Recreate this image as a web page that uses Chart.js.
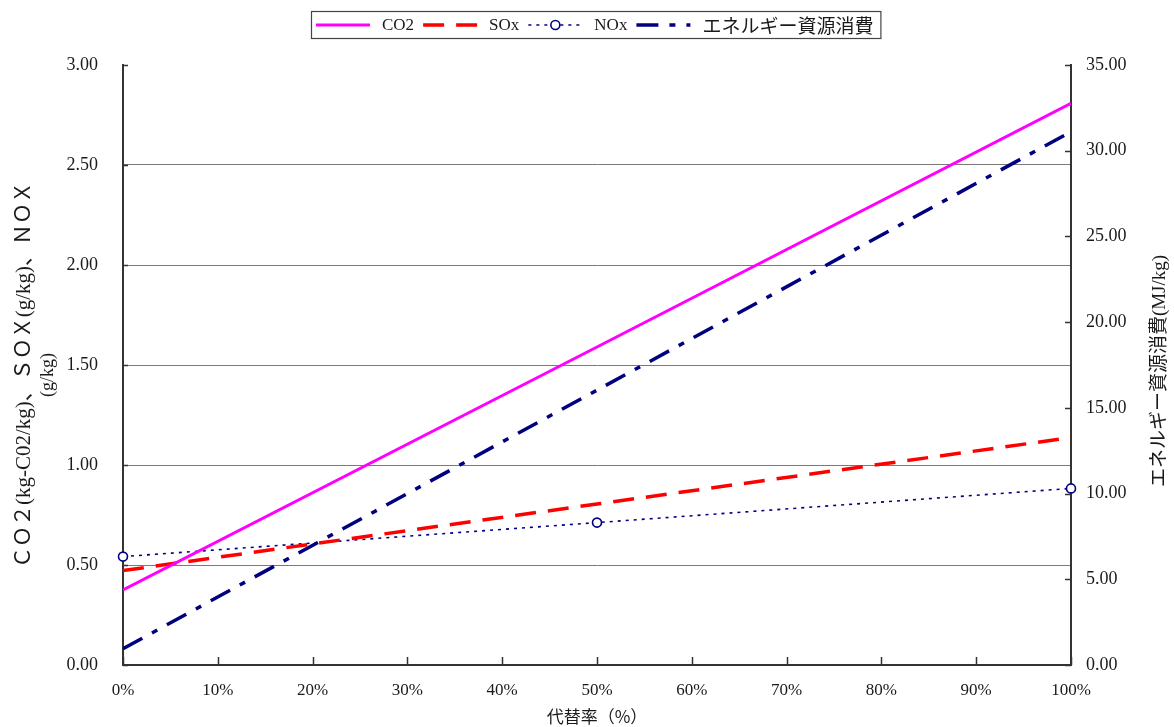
<!DOCTYPE html>
<html>
<head>
<meta charset="utf-8">
<script src="https://cdn.jsdelivr.net/npm/chart.js@4/dist/chart.umd.min.js"></script>
<style>
  html, body { margin: 0; padding: 0; background: #ffffff; }
  #c { display: block; }
</style>
</head>
<body>
<canvas id="c" width="1174" height="727"></canvas>
<script>
// Substitution rate (%) and the emission / energy values at each rate
const substitutionRate = [0, 50, 100];
const co2Values = [0.375, 1.59, 2.808];     // kg-CO2/kg
const soxValues = [0.472, 0.805, 1.137];    // g/kg
const noxValues = [0.542, 0.712, 0.883];    // g/kg
const energyValues = [0.95, 16.03, 31.11];  // MJ/kg (right axis)

const seriesNames = ['CO2', 'SOx', 'NOx', 'エネルギー資源消費'];
const xTickValues = [0, 10, 20, 30, 40, 50, 60, 70, 80, 90, 100];
const leftTickValues = [0, 0.5, 1, 1.5, 2, 2.5, 3];
const rightTickValues = [0, 5, 10, 15, 20, 25, 30, 35];

const leftTitle = ['ＣＯ２(kg-C02/kg)、ＳＯＸ(g/kg)、ＮＯＸ', '(g/kg)'];
const rightTitle = 'エネルギー資源消費(MJ/kg)';
const xTitle = '代替率（%）';

const SERIF = '"Liberation Serif", "Noto Sans CJK JP", serif';
const TEXT = '#1a1a1a';
const AXIS = '#333333';

const toPoints = (vals) => substitutionRate.map((x, i) => ({ x: x, y: vals[i] }));

// Short inward tick marks on the three axes
const innerTicks = {
  id: 'innerTicks',
  afterDatasetsDraw(chart) {
    const { ctx, chartArea: a, scales } = chart;
    ctx.save();
    ctx.strokeStyle = AXIS;
    ctx.lineWidth = 1.5;
    ctx.beginPath();
    xTickValues.forEach(v => {
      const px = Math.round(scales.x.getPixelForValue(v)) + 0.5;
      ctx.moveTo(px, a.bottom); ctx.lineTo(px, a.bottom - 8);
    });
    leftTickValues.forEach(v => {
      const py = Math.round(scales.y.getPixelForValue(v)) + 0.5;
      ctx.moveTo(a.left, py); ctx.lineTo(a.left + 5, py);
    });
    rightTickValues.forEach(v => {
      const py = Math.round(scales.y1.getPixelForValue(v)) + 0.5;
      ctx.moveTo(a.right, py); ctx.lineTo(a.right - 6, py);
    });
    ctx.stroke();
    ctx.restore();
  }
};

// Vertical axis titles, both reading bottom to top
const axisTitles = {
  id: 'axisTitles',
  afterDraw(chart) {
    const { ctx } = chart;
    ctx.save();
    ctx.fillStyle = TEXT;
    ctx.textAlign = 'center';
    ctx.textBaseline = 'middle';
    // left title, two lines
    [[24, leftTitle[0], 21], [48, leftTitle[1], 18]].forEach(([x, t, size]) => {
      ctx.save();
      ctx.font = size + 'px ' + SERIF;
      ctx.translate(x, 375);
      ctx.rotate(-Math.PI / 2);
      ctx.fillText(t, 0, 0);
      ctx.restore();
    });
    ctx.save();
    ctx.font = '19px ' + SERIF;
    ctx.translate(1160, 371);
    ctx.rotate(-Math.PI / 2);
    ctx.fillText(rightTitle, 0, 0);
    ctx.restore();
    ctx.restore();
  }
};

// Boxed legend along the top, line samples in each series' own style
const boxLegend = {
  id: 'boxLegend',
  afterDraw(chart) {
    const { ctx } = chart;
    const sets = chart.data.datasets;
    const sampleW = 54, gapText = 12, gapNext = 9, pad = 5;
    const centerX = 596, top = 11, bottom = 38, midY = 25;
    ctx.save();
    const labelFont = (s) => /[^\x00-\x7f]/.test(s) ? '19px "Noto Sans CJK JP", sans-serif' : '17px ' + SERIF;
    const widths = sets.map(d => { ctx.font = labelFont(d.label); return ctx.measureText(d.label).width; });
    let total = pad;
    widths.forEach((w, i) => { total += sampleW + gapText + w + (i < widths.length - 1 ? gapNext : pad + 2); });
    const left = Math.round(centerX - total / 2);
    ctx.fillStyle = '#ffffff';
    ctx.fillRect(left, top, total, bottom - top);
    ctx.strokeStyle = '#444444';
    ctx.lineWidth = 1.2;
    ctx.strokeRect(left + 0.5, top + 0.5, total, bottom - top);
    let x = left + pad;
    sets.forEach((d, i) => {
      ctx.save();
      ctx.strokeStyle = d.borderColor;
      ctx.lineWidth = d.borderWidth;
      ctx.setLineDash(d.borderDash || []);
      ctx.beginPath();
      ctx.moveTo(x, midY); ctx.lineTo(x + sampleW, midY);
      ctx.stroke();
      if (d.pointRadius > 0) {
        ctx.setLineDash([]);
        ctx.fillStyle = d.pointBackgroundColor;
        ctx.strokeStyle = d.pointBorderColor;
        ctx.lineWidth = d.pointBorderWidth;
        ctx.beginPath();
        ctx.arc(x + sampleW / 2, midY, d.pointRadius, 0, Math.PI * 2);
        ctx.fill(); ctx.stroke();
      }
      ctx.restore();
      x += sampleW + gapText;
      ctx.font = labelFont(d.label);
      ctx.fillStyle = TEXT;
      ctx.textAlign = 'left';
      ctx.textBaseline = 'middle';
      ctx.fillText(d.label, x, midY + 1);
      x += widths[i] + gapNext;
    });
    ctx.restore();
  }
};

new Chart(document.getElementById('c'), {
  type: 'line',
  data: {
    datasets: [
      {
        label: seriesNames[0], data: toPoints(co2Values), yAxisID: 'y',
        borderColor: '#ff00ff', borderWidth: 3, pointRadius: 0, borderDash: []
      },
      {
        label: seriesNames[1], data: toPoints(soxValues), yAxisID: 'y',
        borderColor: '#ff0000', borderWidth: 3.5, pointRadius: 0, borderDash: [21, 12]
      },
      {
        label: seriesNames[2], data: toPoints(noxValues), yAxisID: 'y',
        borderColor: '#000080', borderWidth: 1.6, borderDash: [3, 5],
        pointRadius: 4.5, pointStyle: 'circle', pointBackgroundColor: '#ffffff',
        pointBorderColor: '#000080', pointBorderWidth: 1.6, clip: false
      },
      {
        label: seriesNames[3], data: toPoints(energyValues), yAxisID: 'y1',
        borderColor: '#000080', borderWidth: 3.5, pointRadius: 0, borderDash: [22, 11, 6, 11]
      }
    ]
  },
  options: {
    responsive: false,
    animation: false,
    devicePixelRatio: 1,
    layout: { padding: { top: 65, left: 0, right: 0, bottom: 0 } },
    plugins: { legend: { display: false }, tooltip: { enabled: false } },
    elements: { line: { tension: 0 } },
    scales: {
      x: {
        type: 'linear', min: 0, max: 100,
        afterBuildTicks: (s) => { s.ticks = xTickValues.map(v => ({ value: v })); },
        afterFit: (s) => { s.height = 62; },
        ticks: {
          callback: (v) => v + '%', padding: 15, maxRotation: 0, autoSkip: false,
          color: TEXT, font: { family: SERIF, size: 17 }
        },
        grid: { drawOnChartArea: false, drawTicks: false },
        border: { display: true, color: AXIS, width: 2 },
        title: { display: true, text: xTitle, color: TEXT, font: { family: '"Noto Sans CJK JP", sans-serif', size: 17 }, padding: { top: 0, bottom: 0 } }
      },
      y: {
        type: 'linear', position: 'left', min: 0, max: 3,
        afterBuildTicks: (s) => { s.ticks = leftTickValues.map(v => ({ value: v })); },
        afterFit: (s) => { s.width = 123; },
        ticks: {
          callback: (v) => Number(v).toFixed(2), padding: 25,
          color: TEXT, font: { family: SERIF, size: 18 }
        },
        grid: {
          drawTicks: false, lineWidth: 1,
          color: (c) => (c.tick && (c.tick.value === 0 || c.tick.value === 3)) ? 'rgba(0,0,0,0)' : '#7a7a7a'
        },
        border: { display: true, color: AXIS, width: 2 }
      },
      y1: {
        type: 'linear', position: 'right', min: 0, max: 35,
        afterBuildTicks: (s) => { s.ticks = rightTickValues.map(v => ({ value: v })); },
        afterFit: (s) => { s.width = 103; },
        ticks: {
          callback: (v) => Number(v).toFixed(2), padding: 15,
          color: TEXT, font: { family: SERIF, size: 18 }
        },
        grid: { drawOnChartArea: false, drawTicks: false },
        border: { display: true, color: AXIS, width: 2 }
      }
    }
  },
  plugins: [innerTicks, axisTitles, boxLegend]
});
</script>
</body>
</html>
